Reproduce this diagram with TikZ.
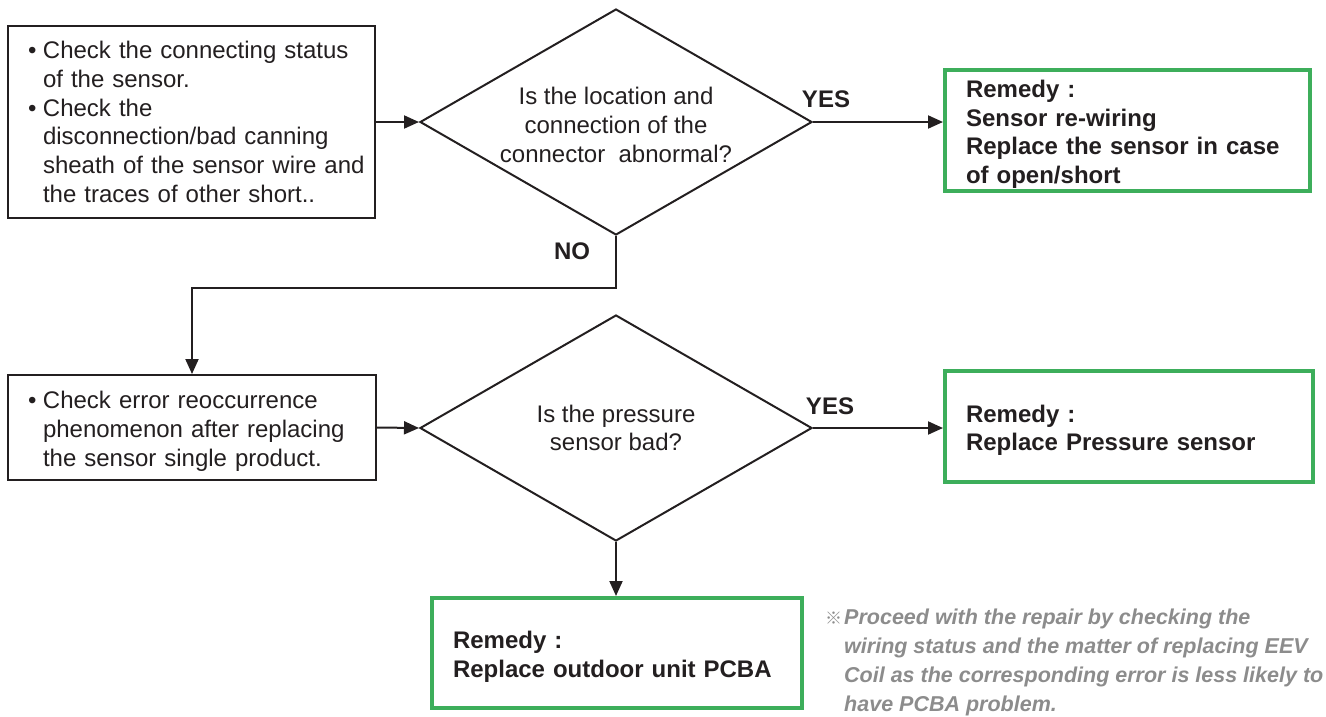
\documentclass[tikz,border=0pt]{standalone}
\usepackage{fontspec}
\setmainfont{Liberation Sans}
\newfontfamily\cjk{Noto Sans CJK SC}
\usetikzlibrary{shapes.geometric,arrows.meta}
\definecolor{ink}{HTML}{231F20}
\definecolor{remedy}{HTML}{3DAE5B}
\definecolor{notegray}{HTML}{8C8C8C}
\newcommand{\bitem}{\hspace*{8pt}\makebox[15pt][l]{•}}
\newcommand{\bcont}{\hspace*{23pt}}
\newcommand{\lift}[1]{\rule{0pt}{#1}}

\begin{document}
\begin{tikzpicture}[x=1pt, y=-1pt,
        every node/.style={font=\fontsize{24}{28.8}\selectfont, text=ink},
        checkbox/.style={draw=ink, line width=2pt, fill=white, align=left, inner xsep=12pt, inner ysep=0pt},
        decision/.style={diamond, draw=ink, line width=2pt, align=center, inner sep=0pt, aspect=1.735, minimum width=392pt, minimum height=226pt},
        remedybox/.style={draw=remedy, line width=4pt, align=left, inner xsep=19pt, inner ysep=0pt, font=\fontsize{24}{28.8}\selectfont\bfseries},
        answer/.style={font=\fontsize{24}{28.8}\selectfont\bfseries},
        arrow/.style={-{Triangle[length=15pt,width=13pt]}, draw=ink, line width=2pt}]
        \useasboundingbox (0,0) rectangle (1326,716);

        \node[checkbox, minimum width=367pt, minimum height=192pt, text width=343pt] (check1) at (191.5,122)
            {\bitem Check the connecting status\\\bcont of the sensor.\\\bitem Check the\\\bcont disconnection/bad canning\\\bcont\mbox{sheath of the sensor wire and}\\\bcont the traces of other short..};
        \node[decision] (dec1) at (616,122) {\lift{23pt}Is the location and\\connection of the\\connector\ \ abnormal?};
        \node[remedybox, minimum width=365pt, minimum height=121pt, text width=323pt] (rem1) at (1127.5,130.5)
            {\lift{25pt}Remedy :\\Sensor re-wiring\\Replace the sensor in case\\of open/short};

        \node[checkbox, minimum width=368pt, minimum height=105pt, text width=344pt] (check2) at (192,427.5)
            {\lift{25pt}\bitem Check error reoccurrence\\\bcont phenomenon after replacing\\\bcont the sensor single product.};
        \node[decision] (dec2) at (616,428) {Is the pressure\\sensor bad?};
        \node[remedybox, minimum width=368pt, minimum height=111pt, text width=326pt] (rem2) at (1129,426.5)
            {\lift{25pt}Remedy :\\Replace Pressure sensor};
        \node[remedybox, minimum width=370pt, minimum height=110pt, text width=328pt] (rem3) at (617,653)
            {\lift{25pt}Remedy :\\Replace outdoor unit PCBA};

        \node[answer] (yes1) at (826,99) {YES};
        \node[answer] (no1) at (572,251) {NO};
        \node[answer] (yes2) at (830,406) {YES};

        \node[anchor=north west, inner sep=0pt, align=left, text=notegray,
            font=\fontsize{21.5}{29}\selectfont\bfseries\itshape] (note) at (825,609)
            {{\cjk\fontsize{17}{17}\selectfont ※}\hspace{2pt}Proceed with the repair by checking the\\
             \hspace*{19pt}wiring status and the matter of replacing EEV\\
             \hspace*{19pt}Coil as the corresponding error is less likely to\\
             \hspace*{19pt}have PCBA problem.};

        \draw[arrow] (check1.east) -- (dec1.west);
        \draw[arrow] (dec1.east) -- (dec1.east -| rem1.west);
        \draw[arrow] (dec1.south) -- ++(0,52) -| (check2.north);
        \draw[arrow] (check2.east) -- (dec2.west);
        \draw[arrow] (dec2.east) -- (dec2.east -| rem2.west);
        \draw[arrow] (dec2.south) -- (dec2.south |- rem3.north);
      \end{tikzpicture}
\end{document}
